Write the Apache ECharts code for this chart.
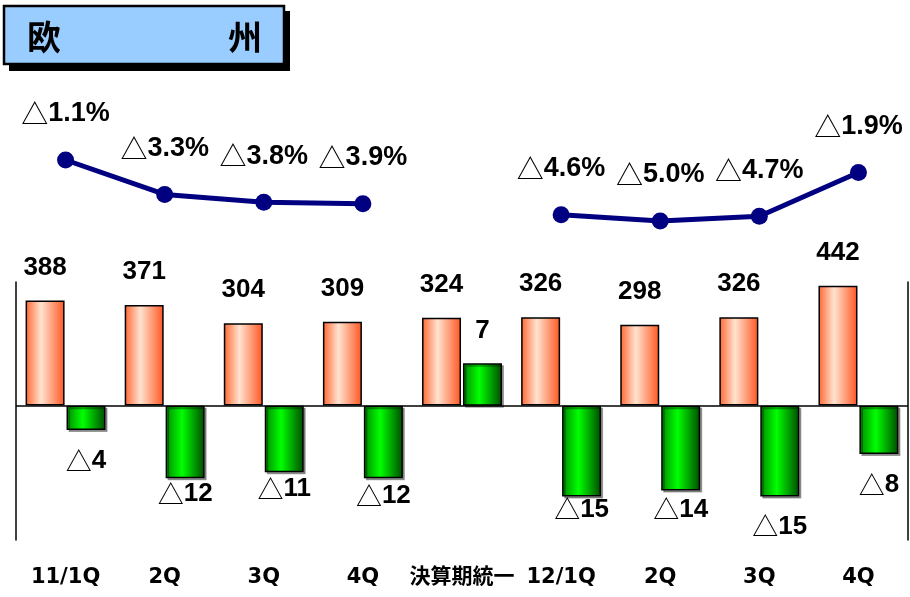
<!DOCTYPE html>
<html><head><meta charset="utf-8">
<script src="https://cdn.jsdelivr.net/npm/echarts@6/dist/echarts.min.js"></script>
<style>html,body{margin:0;padding:0;background:#fff}#c{width:910px;height:597px}</style>
</head><body><div id="c"></div>
<script>
// ---- data ----
const categories = ['11/1Q', '2Q', '3Q', '4Q', '決算期統一', '12/1Q', '2Q', '3Q', '4Q'];
const salesValues = [388, 371, 304, 309, 324, 326, 298, 326, 442];
const profitValues = [-4, -12, -11, -12, 7, -15, -14, -15, -8];
const marginValues = [-1.1, -3.3, -3.8, -3.9, null, -4.6, -5.0, -4.7, -1.9];

// ---- style (label gaps per bar) ----
const profitLabelGap = [18, 3, 4, 5, 20, 0, 6, 17, 18];

const numFont = 'Liberation Sans';
const cjkFont = 'Noto Sans CJK JP';
function makeRich(size) {
  return {
    t: { fontFamily: cjkFont, fontWeight: 'normal', fontSize: size, color: '#000' },
    n: { fontFamily: numFont, fontWeight: 'bold', fontSize: size, color: '#000' }
  };
}
function tri(v, suffix) {
  if (v < 0) return '{t|△}{n|' + Math.abs(v).toFixed(suffix ? 1 : 0) + (suffix || '') + '}';
  return '{n|' + v + (suffix || '') + '}';
}

const chart = echarts.init(document.getElementById('c'), null, { renderer: 'canvas' });
const GL = 16, GR = 2;
chart.setOption({
  animation: false,
  backgroundColor: '#fff',
  graphic: [
    { type: 'rect', shape: { x: 9, y: 11, width: 281, height: 60 }, style: { fill: '#000' }, z: 10 },
    { type: 'rect', shape: { x: 4, y: 6, width: 280, height: 58 }, style: { fill: '#99ccff', stroke: '#000', lineWidth: 2.5 }, z: 11 },
    { type: 'text', x: 44, y: 37, style: { text: '欧', fontSize: 34, fontWeight: 'bold', fontFamily: cjkFont, fill: '#000', align: 'center', verticalAlign: 'middle' }, z: 12 },
    { type: 'text', x: 245, y: 37, style: { text: '州', fontSize: 34, fontWeight: 'bold', fontFamily: cjkFont, fill: '#000', align: 'center', verticalAlign: 'middle' }, z: 12 }
  ],
  grid: [
    { left: GL, right: GR, top: 282, bottom: 57 },
    { left: GL, right: GR, top: 130, height: 110 }
  ],
  xAxis: [
    {
      type: 'category', gridIndex: 0, data: categories,
      axisLine: { show: false }, axisTick: { show: false },
      axisLabel: { margin: 27, fontSize: 21, fontWeight: 'bold', color: '#000', fontFamily: 'DejaVu Sans, Noto Sans CJK JP', interval: 0 },
      splitLine: { show: false }
    },
    {
      type: 'category', gridIndex: 1, data: categories, show: false
    }
  ],
  yAxis: [
    {
      type: 'value', gridIndex: 0, min: -496, max: 456, position: 'left',
      axisLine: { show: true, onZero: false, lineStyle: { color: '#000', width: 1.5 } },
      axisTick: { show: false }, axisLabel: { show: false }, splitLine: { show: false }
    },
    {
      type: 'value', gridIndex: 0, min: -22.2, max: 20.45, position: 'right',
      axisLine: { show: true, onZero: false, lineStyle: { color: '#000', width: 1.5 } },
      axisTick: { show: false }, axisLabel: { show: false }, splitLine: { show: false }
    },
    {
      type: 'value', gridIndex: 1, min: -6.215, max: 0.818, show: false
    }
  ],
  series: [
    {
      type: 'bar', xAxisIndex: 0, yAxisIndex: 0, data: salesValues,
      barWidth: 39, barGap: '5%',
      itemStyle: {
        color: new echarts.graphic.LinearGradient(0, 0, 1, 0, [
          { offset: 0, color: '#ff6630' },
          { offset: 0.4, color: '#ffe3d0' },
          { offset: 1, color: '#ff5520' }
        ]),
        borderColor: '#000', borderWidth: 1.5
      },
      label: {
        show: true, position: 'top', distance: 20,
        fontFamily: numFont, fontWeight: 'bold', fontSize: 26, color: '#000'
      },
      markLine: {
        silent: true, symbol: 'none', label: { show: false },
        lineStyle: { color: '#000', type: 'solid', width: 1.5 },
        data: [{ yAxis: 0 }]
      }
    },
    {
      type: 'bar', xAxisIndex: 0, yAxisIndex: 1,
      data: profitValues.map((v, i) => ({ value: v, label: { distance: profitLabelGap[i] } })),
      barWidth: 39, barGap: '5%',
      itemStyle: {
        color: new echarts.graphic.LinearGradient(0, 0, 1, 0, [
          { offset: 0, color: '#008a00' },
          { offset: 0.42, color: '#00ff00' },
          { offset: 1, color: '#004a00' }
        ]),
        borderColor: '#000', borderWidth: 1.5,
        shadowColor: 'rgba(0,0,0,0.35)', shadowOffsetX: 2, shadowOffsetY: 2, shadowBlur: 0
      },
      label: {
        show: true, position: 'outside',
        formatter: p => tri(p.value),
        rich: makeRich(26)
      }
    },
    {
      type: 'line', xAxisIndex: 1, yAxisIndex: 2, data: marginValues,
      connectNulls: false, clip: false,
      symbol: 'circle', symbolSize: 17,
      lineStyle: { color: '#000080', width: 5 },
      itemStyle: { color: '#000080' },
      label: {
        show: true, position: 'top', distance: 24,
        formatter: p => tri(p.value, '%'),
        rich: makeRich(27)
      }
    }
  ]
});
</script>
</body></html>
